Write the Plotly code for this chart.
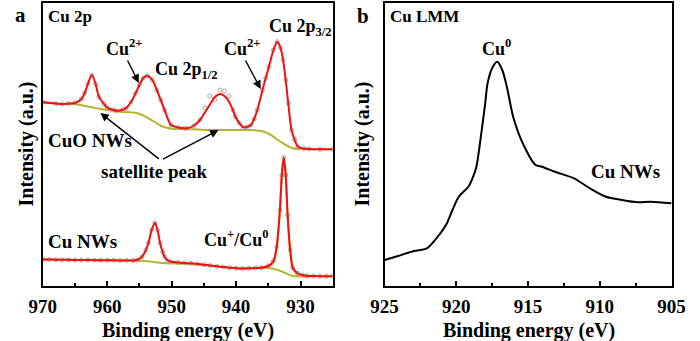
import plotly.graph_objects as go

# ---------------- Panel a: Cu 2p ----------------
cuo_ev = [970, 968, 967, 966, 965, 964, 963.5, 963, 962.4, 961.8, 961.3, 960.5, 960, 959, 958.6,
          957.5, 957.1, 956.3, 955.6, 955, 954.4, 953.8, 953, 952.3, 951.7, 951.1, 950.1, 949,
          948, 947.6, 946.5, 945.6, 944.8, 944.1, 943.3, 942.5, 941.8, 941.1, 940.5, 940.1, 939.5,
          938.9, 938.3, 937.7, 937.2, 936.7, 935.9, 935.4, 934.9, 934.2, 933.6, 933.1, 932.7,
          932.3, 931.9, 931.4, 930.9, 930.4, 929.5, 928.7, 927, 925]
cuo_fit = [183.7, 182.5, 182, 182.5, 183, 187, 193, 202, 211, 202, 189.3, 182, 178.3, 176, 175.3,
           176.5, 177.7, 184, 192.7, 201, 208, 210.3, 206, 196, 186, 176, 161, 158.5,
           157.7, 157.7, 160.5, 166, 174, 181, 189, 192, 190, 184.3, 176, 169.3, 163,
           158.7, 159, 161, 167, 176, 196, 208, 219.3, 236, 244.3, 238, 226,
           206, 182.7, 156, 146, 139.3, 137.5, 137, 136.7, 136.7]
cuo_raw = [183.7, 182.3, 182.2, 182.5, 183.2, 187, 193, 202, 211, 202, 189.3, 182, 178.3, 176, 175.3,
           176.5, 177.7, 184, 192.7, 201, 208, 210.3, 206, 196, 186, 176, 161, 158.5,
           157.7, 157.5, 160.5, 166, 178, 190, 186, 196, 195, 190, 176, 169.3, 163,
           158, 159, 161, 167, 176, 196, 208, 219.3, 236, 244.3, 238, 226,
           206, 182.7, 156, 146, 139.3, 137.5, 137, 136.7, 136.7]
cuo_bg_ev = [970, 967, 965, 963, 961, 959.5, 958, 956.5, 955.6, 954.6, 953.6, 952.6, 951.6, 950.6,
             949.6, 948, 946, 944, 942.7, 940, 937.7, 936.7, 935.7, 935, 934.2, 933.5, 932.7, 932,
             931.2, 930, 928, 925]
cuo_bg = [183.7, 182, 181.7, 179.5, 177, 175.5, 174.3, 173.7, 173.3, 171, 167.7, 164, 160, 158,
          157, 157, 156.5, 156, 156, 156, 156, 155.5, 154.3, 152.5, 149.3, 146, 142.7, 140,
          137.7, 137, 136.8, 136.7]

cu_ev = [970, 969, 968, 967, 966, 965, 964, 963, 962, 961, 960, 959, 958, 957, 956, 955.4, 954.6,
         954, 953.6, 953.1, 952.6, 952.2, 951.8, 951.4, 951.1, 950.6, 950.1, 949, 948, 947, 946,
         945, 944, 943, 942, 941, 940, 939, 938, 937, 936.1, 935, 934.2, 933.7, 933.2, 932.9,
         932.6, 932.3, 932.0, 931.6, 931.2, 930.4, 929.7, 929, 928, 927, 926, 925]
cu_fit = [26.5, 26.5, 26.3, 26.2, 26.2, 26, 26, 26, 25.8, 25.8, 25.7, 25.7, 25.5, 25.5, 25.4, 26, 29.3,
          36, 43, 56, 63.3, 56, 43, 34, 29.3, 25.5, 24.3, 23.5, 23, 22.7, 22,
          21.3, 20.5, 19.7, 19, 18.3, 17.7, 17.5, 17.7, 18, 18.3, 20, 25, 39.3, 76, 111,
          128.5, 111, 71, 36, 18, 12.5, 11, 10.3, 10, 9.8, 9.7, 9.7]
cu_bg_ev = [970, 960, 956, 955.1, 953.1, 951, 949, 947, 945, 943, 941, 939, 937, 935.7, 934.2,
            932.8, 931.2, 929, 925]
cu_bg = [26.5, 25.7, 25.4, 25.3, 24.3, 22.7, 22.3, 22, 21, 19.7, 18.3, 17.5, 18, 18.3, 17.3,
         14.3, 10, 9.8, 9.7]
cu_comp_ev = [936.5, 935.5, 934.8, 934.2, 933.7, 933.2, 932.9, 932.6, 932.3, 932.0, 931.6, 931.2,
              930.8, 930.4, 929.5, 928.5]
cu_comp = [18, 18.4, 20, 24, 38, 76, 111, 128.5, 111, 71, 34, 20, 14, 10.5, 9.5, 9.5]

# ---------------- Panel b: Cu LMM ----------------
lmm_ev = [925.0, 924.06, 922.95, 922.06, 921.39, 920.72, 920.27, 919.83, 919.16, 918.83, 918.6,
          918.26, 918.0, 917.82, 917.5, 917.15, 916.8, 916.48, 916.04, 915.37, 914.48, 914.03,
          913.14, 911.8, 910.69, 909.57, 908.46, 907.34, 906.45, 905.0]
lmm_int = [26, 30, 35, 37.7, 47.7, 61, 76, 89.3, 99.3, 109.3, 119.3,
           152.7, 181, 202.7, 218, 224.3, 216, 199.3, 169.3, 142.7, 121, 119.3,
           114.3, 107.7, 97.7, 89.3, 86, 83.7, 84.3, 82.7]

W, H = 700, 341
FONT = "Liberation Serif"
RED = "#f01010"
OLIVE = "#b4b42c"
ORANGE = "#f5a623"

fig = go.Figure()
fig.add_trace(go.Scatter(x=cuo_bg_ev, y=cuo_bg, mode="lines", line=dict(color=OLIVE, width=2, shape="spline"),
                         xaxis="x", yaxis="y"))
fig.add_trace(go.Scatter(x=cu_bg_ev, y=cu_bg, mode="lines", line=dict(color=OLIVE, width=2, shape="spline"),
                         xaxis="x", yaxis="y"))
fig.add_trace(go.Scatter(x=cu_comp_ev, y=cu_comp, mode="lines", line=dict(color=ORANGE, width=2, shape="spline"),
                         xaxis="x", yaxis="y"))
fig.add_trace(go.Scatter(x=cuo_ev, y=cuo_raw, mode="markers",
                         marker=dict(symbol="circle-open", size=4, color="#a8a8a8", line=dict(width=1)),
                         xaxis="x", yaxis="y"))
fig.add_trace(go.Scatter(x=cuo_ev, y=cuo_fit, mode="lines", line=dict(color=RED, width=2, shape="spline", smoothing=0.8),
                         xaxis="x", yaxis="y"))
fig.add_trace(go.Scatter(x=cu_ev, y=cu_fit, mode="markers",
                         marker=dict(symbol="circle-open", size=4, color="#a8a8a8", line=dict(width=1)),
                         xaxis="x", yaxis="y"))
fig.add_trace(go.Scatter(x=cu_ev, y=cu_fit, mode="lines", line=dict(color=RED, width=2, shape="spline", smoothing=0.8),
                         xaxis="x", yaxis="y"))
fig.add_trace(go.Scatter(x=lmm_ev, y=lmm_int, mode="lines", line=dict(color="black", width=2, shape="spline", smoothing=0.8),
                         xaxis="x2", yaxis="y2"))


def px(x):
    return x / W


def py(y):
    return 1 - y / H


ydom = [(H - 286) / H, (H - 2.5) / H]
tickfont = dict(family=FONT, size=19, color="black", weight="bold")
common_x = dict(showgrid=False, zeroline=False, showline=True, mirror=True, linecolor="black",
                linewidth=1.8, ticks="inside", ticklen=5, tickwidth=1.5, tickcolor="black",
                tickfont=tickfont, ticklabelstandoff=2)
common_y = dict(showgrid=False, zeroline=False, showline=True, mirror=True, linecolor="black",
                linewidth=1.8, showticklabels=False, ticks="", range=[0, 283.5])

fig.update_layout(
    width=W, height=H, margin=dict(l=0, r=0, t=0, b=0),
    paper_bgcolor="white", plot_bgcolor="white", showlegend=False,
    xaxis=dict(domain=[px(30), px(332)], range=[970, 925], tick0=970, dtick=10,
               minor=dict(dtick=5, tick0=970, ticks="inside", ticklen=3, tickwidth=1.5, tickcolor="black"),
               anchor="y", **common_x),
    yaxis=dict(domain=ydom, anchor="x", **common_y),
    xaxis2=dict(domain=[px(386), px(685)], range=[925, 905], tick0=925, dtick=5,
                minor=dict(dtick=2.5, tick0=925, ticks="inside", ticklen=3, tickwidth=1.5, tickcolor="black"),
                anchor="y2", **common_x),
    yaxis2=dict(domain=ydom, anchor="x2", **common_y),
)


def label(text, x, y, size=18, xanchor="center", angle=0):
    fig.add_annotation(text=text, x=px(x), y=py(y), xref="paper", yref="paper", showarrow=False,
                       xanchor=xanchor, yanchor="middle", textangle=angle,
                       font=dict(family=FONT, size=size, color="black", weight="bold"))


def arrow(tail, head):
    fig.add_annotation(text="", x=px(head[0]), y=py(head[1]), xref="paper", yref="paper",
                       ax=tail[0] - head[0], ay=tail[1] - head[1], axref="pixel", ayref="pixel",
                       showarrow=True, arrowhead=2, arrowsize=1.2, arrowwidth=1.4, arrowcolor="black")


# Panel a labels
label("a", 7, 15, 21)
label("Cu 2p", 33, 17, 17, "left")
label("Cu<sup>2+</sup>", 115, 48, 18)
label("Cu 2p<sub>1/2</sub>", 180, 70, 18)
label("Cu<sup>2+</sup>", 238, 48, 18)
label("Cu 2p<sub>3/2</sub>", 298, 27, 18)
label("CuO NWs", 33, 140, 19, "left")
label("satellite peak", 146, 171, 19)
label("Cu NWs", 33, 241, 19, "left")
label("Cu<sup>+</sup>/Cu<sup>0</sup>", 232, 238, 18)
label("Binding energy (eV)", 181, 330, 20)
label("Intensity (a.u.)", 13, 144, 20, angle=-90)
arrow((118, 59), (130, 83))
arrow((241, 59), (257, 89))
arrow((150, 160), (90, 113))
arrow((156, 160), (213, 130))

# Panel b labels
label("b", 364, 16, 21)
label("Cu LMM", 390, 17, 17, "left")
label("Cu<sup>0</sup>", 503, 48, 18)
label("Cu NWs", 637, 171, 19)
label("Binding energy (eV)", 536, 330, 20)
label("Intensity (a.u.)", 363, 144, 20, angle=-90)

fig.write_html("out.html")
